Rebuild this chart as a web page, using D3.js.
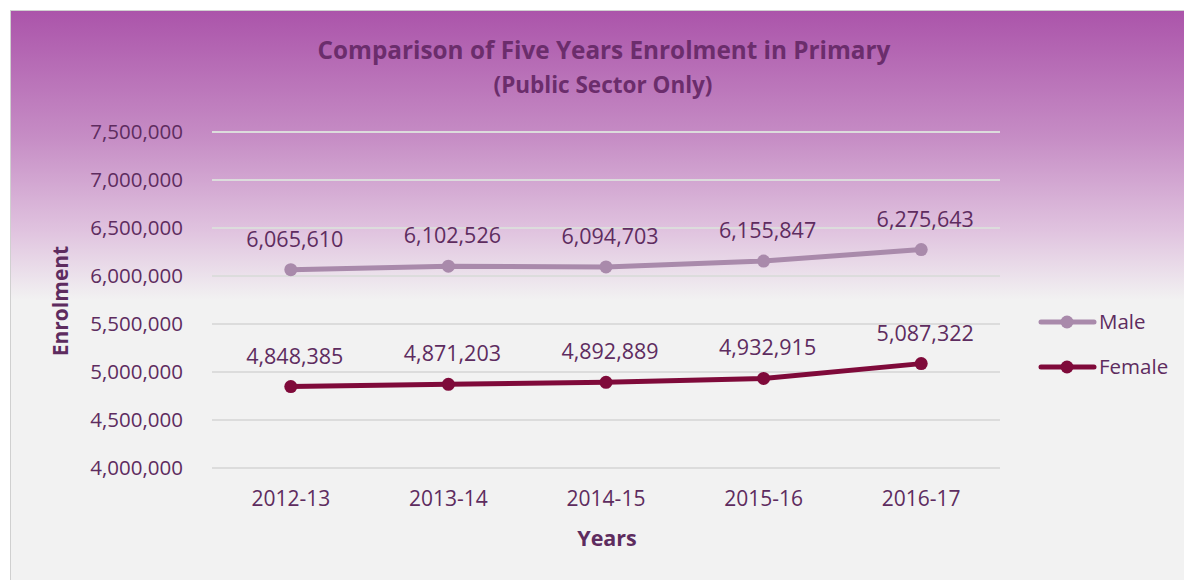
<!DOCTYPE html>
<html>
<head>
<meta charset="utf-8">
<script src="https://cdn.jsdelivr.net/npm/d3@7"></script>
<style>
  body { margin: 0; background: #fff; }
  svg text { font-family: "Open Sans", sans-serif; }
</style>
</head>
<body>
<svg id="chart" width="1184" height="580"></svg>
<script>
const years = ["2012-13", "2013-14", "2014-15", "2015-16", "2016-17"];
const male = [6065610, 6102526, 6094703, 6155847, 6275643];
const female = [4848385, 4871203, 4892889, 4932915, 5087322];
const yTicks = [4000000, 4500000, 5000000, 5500000, 6000000, 6500000, 7000000, 7500000];

const series = [
  { name: "Male", values: male, color: "#a98aab" },
  { name: "Female", values: female, color: "#7f0a3a" }
];

const textColor = "#5e2c5f";
const svg = d3.select("#chart");

// background gradient
const defs = svg.append("defs");
const grad = defs.append("linearGradient")
  .attr("id", "bg").attr("x1", 0).attr("y1", 0).attr("x2", 0).attr("y2", 1);
grad.append("stop").attr("offset", "0%").attr("stop-color", "#ab54aa");
grad.append("stop").attr("offset", "22%").attr("stop-color", "#c68dc5");
grad.append("stop").attr("offset", "38%").attr("stop-color", "#e0c3df");
grad.append("stop").attr("offset", "50%").attr("stop-color", "#f2f2f2");
grad.append("stop").attr("offset", "100%").attr("stop-color", "#f2f2f2");

svg.append("rect")
  .attr("x", 10.5).attr("y", 10.5)
  .attr("width", 1180).attr("height", 580)
  .attr("fill", "url(#bg)")
  .attr("stroke", "#d0d0d0");

const x = d3.scaleBand().domain(years).range([212, 1000]);
const y = d3.scaleLinear().domain([4000000, 7500000]).range([468, 132]);
const fmt = d3.format(",");

// gridlines
svg.append("g")
  .selectAll("line")
  .data(yTicks)
  .join("line")
  .attr("x1", 212).attr("x2", 1000)
  .attr("y1", d => y(d)).attr("y2", d => y(d))
  .attr("stroke", "#dcdcdc")
  .attr("stroke-width", 2);

// y axis labels
const yAxis = svg.append("g")
  .attr("transform", "translate(196,0)")
  .call(d3.axisLeft(y).tickValues(yTicks).tickFormat(fmt).tickSize(0).tickPadding(13));
yAxis.select(".domain").remove();
yAxis.selectAll("text")
  .attr("fill", textColor)
  .style("font-size", "20.5px");

// x axis labels
const xAxis = svg.append("g")
  .attr("transform", "translate(0,468)")
  .call(d3.axisBottom(x).tickSize(0).tickPadding(23));
xAxis.select(".domain").remove();
xAxis.selectAll("text")
  .attr("fill", textColor)
  .style("font-size", "21px");

const line = d3.line()
  .x((d, i) => x(years[i]) + x.bandwidth() / 2)
  .y(d => y(d));

series.forEach(s => {
  svg.append("path")
    .datum(s.values)
    .attr("fill", "none")
    .attr("stroke", s.color)
    .attr("stroke-width", 5)
    .attr("stroke-linecap", "round")
    .attr("d", line);

  svg.append("g")
    .selectAll("circle")
    .data(s.values)
    .join("circle")
    .attr("cx", (d, i) => x(years[i]) + x.bandwidth() / 2)
    .attr("cy", d => y(d))
    .attr("r", 6.5)
    .attr("fill", s.color);

  svg.append("g")
    .selectAll("text")
    .data(s.values)
    .join("text")
    .attr("x", (d, i) => x(years[i]) + x.bandwidth() / 2 + 4)
    .attr("y", d => y(d) - 23)
    .attr("text-anchor", "middle")
    .attr("fill", textColor)
    .style("font-size", "21.5px")
    .text(d => fmt(d));
});

// legend
const legend = svg.append("g");
series.forEach((s, i) => {
  const ly = 322 + i * 45;
  legend.append("line")
    .attr("x1", 1041).attr("x2", 1094)
    .attr("y1", ly).attr("y2", ly)
    .attr("stroke", s.color)
    .attr("stroke-width", 5)
    .attr("stroke-linecap", "round");
  legend.append("circle")
    .attr("cx", 1067).attr("cy", ly).attr("r", 6.5)
    .attr("fill", s.color);
  legend.append("text")
    .attr("x", 1099).attr("y", ly + 7)
    .attr("fill", textColor)
    .style("font-size", "20.5px")
    .text(s.name);
});

// titles
svg.append("text")
  .attr("x", 604).attr("y", 59)
  .attr("text-anchor", "middle")
  .attr("fill", "#6b2d6c")
  .style("font-size", "24.3px")
  .style("font-weight", "bold")
  .text("Comparison of Five Years Enrolment in Primary");
svg.append("text")
  .attr("x", 603).attr("y", 93)
  .attr("text-anchor", "middle")
  .attr("fill", "#6b2d6c")
  .style("font-size", "22.5px")
  .style("font-weight", "bold")
  .text("(Public Sector Only)");

svg.append("text")
  .attr("transform", "translate(68,301) rotate(-90)")
  .attr("text-anchor", "middle")
  .attr("fill", textColor)
  .style("font-size", "21px")
  .style("font-weight", "bold")
  .text("Enrolment");

svg.append("text")
  .attr("x", 607).attr("y", 546)
  .attr("text-anchor", "middle")
  .attr("fill", textColor)
  .style("font-size", "21.5px")
  .style("font-weight", "bold")
  .text("Years");
</script>
</body>
</html>
